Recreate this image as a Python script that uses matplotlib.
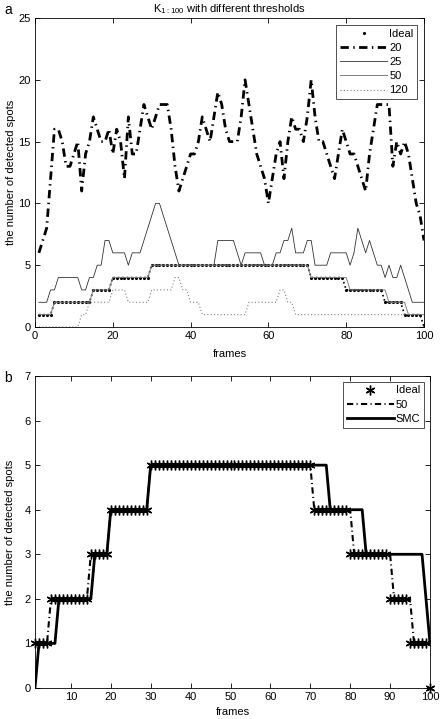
import numpy as np
import matplotlib
matplotlib.use("Agg")
import matplotlib.pyplot as plt
from matplotlib.lines import Line2D

plt.rcParams['font.family'] = ['Liberation Sans', 'DejaVu Sans']
plt.rcParams['font.size'] = 8
plt.rcParams['mathtext.fontset'] = 'custom'
plt.rcParams['mathtext.rm'] = 'Liberation Sans'

# frames 1..100
frames = np.arange(1, 101)

ideal = [1, 1, 1, 1, 2, 2, 2, 2, 2, 2, 2, 2, 2, 2, 3, 3, 3, 3, 3, 4,
         4, 4, 4, 4, 4, 4, 4, 4, 4, 5, 5, 5, 5, 5, 5, 5, 5, 5, 5, 5,
         5, 5, 5, 5, 5, 5, 5, 5, 5, 5, 5, 5, 5, 5, 5, 5, 5, 5, 5, 5,
         5, 5, 5, 5, 5, 5, 5, 5, 5, 5, 4, 4, 4, 4, 4, 4, 4, 4, 4, 3,
         3, 3, 3, 3, 3, 3, 3, 3, 3, 2, 2, 2, 2, 2, 1, 1, 1, 1, 1, 0]

thr20 = [6, 7, 8, 12, 16, 16, 15, 13, 13, 14, 15, 11, 14, 15, 17, 16, 15, 15, 16, 14,
         16, 15, 12, 17, 14, 14, 16, 18, 17, 16, 17, 18, 18, 18, 16, 13, 11, 12, 13, 14,
         14, 15, 17, 16, 15, 17, 19, 18, 16, 15, 15, 15, 17, 20, 18, 16, 14, 13, 12, 10,
         12, 14, 15, 12, 15, 17, 16, 16, 15, 17, 20, 17, 15, 15, 14, 13, 12, 14, 16, 15,
         14, 14, 13, 12, 11, 14, 16, 18, 18, 18, 18, 13, 15, 14, 15, 14, 12, 10, 9, 7]

thr25 = [2, 2, 2, 3, 3, 4, 4, 4, 4, 4, 4, 3, 3, 4, 4, 5, 5, 7, 7, 6,
         6, 6, 6, 5, 6, 6, 6, 7, 8, 9, 10, 10, 9, 8, 7, 6, 5, 5, 5, 5,
         5, 5, 5, 5, 5, 5, 7, 7, 7, 7, 7, 6, 5, 6, 6, 6, 6, 6, 5, 5,
         5, 6, 6, 7, 7, 8, 6, 6, 6, 7, 7, 5, 5, 5, 5, 6, 6, 6, 6, 6,
         5, 6, 8, 7, 6, 7, 6, 5, 5, 4, 5, 4, 4, 5, 4, 3, 2, 2, 2, 2]

thr50 = [1, 1, 1, 1, 2, 2, 2, 2, 2, 2, 2, 2, 2, 2, 3, 3, 3, 3, 3, 4,
         4, 4, 4, 4, 4, 4, 4, 4, 4, 5, 5, 5, 5, 5, 5, 5, 5, 5, 5, 5,
         5, 5, 5, 5, 5, 5, 5, 5, 5, 5, 5, 5, 5, 5, 5, 5, 5, 5, 5, 5,
         5, 5, 5, 5, 5, 5, 5, 5, 5, 5, 4, 4, 4, 4, 4, 4, 4, 4, 4, 4,
         3, 3, 3, 3, 3, 3, 3, 3, 3, 3, 2, 2, 2, 2, 2, 1, 1, 1, 1, 1]

thr120 = [0, 0, 0, 0, 0, 0, 0, 0, 0, 0, 0, 1, 1, 2, 2, 2, 2, 2, 2, 3,
          3, 3, 3, 2, 2, 2, 2, 2, 2, 3, 3, 3, 3, 3, 3, 4, 4, 3, 3, 2,
          2, 2, 1, 1, 1, 1, 1, 1, 1, 1, 1, 1, 1, 1, 2, 2, 2, 2, 2, 2,
          2, 2, 3, 3, 2, 2, 1, 1, 1, 1, 1, 1, 1, 1, 1, 1, 1, 1, 1, 1,
          1, 1, 1, 1, 1, 1, 1, 1, 1, 1, 1, 1, 1, 1, 1, 1, 1, 1, 1, 1]

smc = [0, 1, 1, 1, 1, 1, 2, 2, 2, 2, 2, 2, 2, 2, 2, 3, 3, 3, 3, 4,
       4, 4, 4, 4, 4, 4, 4, 4, 4, 5, 5, 5, 5, 5, 5, 5, 5, 5, 5, 5,
       5, 5, 5, 5, 5, 5, 5, 5, 5, 5, 5, 5, 5, 5, 5, 5, 5, 5, 5, 5,
       5, 5, 5, 5, 5, 5, 5, 5, 5, 5, 5, 5, 5, 5, 4, 4, 4, 4, 4, 4,
       4, 4, 4, 3, 3, 3, 3, 3, 3, 3, 3, 3, 3, 3, 3, 3, 3, 3, 2, 1]

DASHDOT = (0, (3, 1.6, 0.5, 1.6))
ASTERISK = (6, 2, 0)


def matlab_axes(ax):
    for sp in ax.spines.values():
        sp.set_linewidth(0.6)
    ax.tick_params(direction='in', top=True, right=True, length=3.5, width=0.6, pad=3, labelsize=8)


fig = plt.figure(figsize=(4.42, 7.19), dpi=100)
W, H = 442.0, 719.0

# ---- panel a
ax1 = fig.add_axes([35 / W, 1 - 327 / H, 389 / W, 309 / H])
ax1.plot(frames, ideal, color='k', linestyle=':', linewidth=1.2)
ax1.plot(frames, ideal, 'k.', markersize=2.5)
ax1.plot(frames, thr20, color='k', linewidth=2.0, linestyle=DASHDOT)
ax1.plot(frames, thr25, color='0.2', linewidth=0.6)
ax1.plot(frames, thr50, color='0.5', linewidth=0.7)
ax1.plot(frames, thr120, color='0.5', linewidth=0.8, linestyle=(0, (1, 2)))
ax1.set_xlim(0, 100)
ax1.set_ylim(0, 25)
ax1.set_xticks([0, 20, 40, 60, 80, 100])
ax1.set_yticks([0, 5, 10, 15, 20, 25])
ax1.set_xlabel('frames', fontsize=8)
ax1.set_ylabel('the number of detected spots', fontsize=8)
ax1.xaxis.set_label_coords(0.5, -0.072)
ax1.yaxis.set_label_coords(-0.05, 0.5)
ax1.set_title(r'K$_{1:100}$ with different thresholds', fontsize=8, pad=4)
matlab_axes(ax1)

handles1 = [
    Line2D([], [], color='k', marker='.', markersize=2.5, linestyle='none'),
    Line2D([], [], color='k', linewidth=2.0, linestyle=DASHDOT),
    Line2D([], [], color='0.2', linewidth=0.6),
    Line2D([], [], color='0.5', linewidth=0.7),
    Line2D([], [], color='0.5', linewidth=0.8, linestyle=(0, (1, 2))),
]
leg1 = ax1.legend(handles1, ['Ideal', '20', '25', '50', '120'], loc='upper right',
                  fontsize=8, frameon=True, fancybox=False, edgecolor='k',
                  handlelength=4.2, handletextpad=0.2, labelspacing=0.38,
                  borderpad=0.35, borderaxespad=0.6)
leg1.get_frame().set_linewidth(0.6)

# ---- panel b
ax2 = fig.add_axes([35 / W, 1 - 688 / H, 395 / W, 312 / H])
ax2.plot(frames, thr50, color='k', linewidth=1.5, linestyle=DASHDOT)
ax2.plot(frames, smc, color='k', linewidth=2.0)
ax2.plot(frames, ideal, color='k', marker=ASTERISK, markersize=7, markeredgewidth=1.0,
         linestyle='none', clip_on=False)
ax2.set_xlim(1, 100)
ax2.set_ylim(0, 7)
ax2.set_xticks([10, 20, 30, 40, 50, 60, 70, 80, 90, 100])
ax2.set_yticks([0, 1, 2, 3, 4, 5, 6, 7])
ax2.set_xlabel('frames', fontsize=8)
ax2.set_ylabel('the number of detected spots', fontsize=8)
ax2.xaxis.set_label_coords(0.5, -0.062)
ax2.yaxis.set_label_coords(-0.05, 0.5)
matlab_axes(ax2)

handles2 = [
    Line2D([], [], color='k', marker=ASTERISK, markersize=7, markeredgewidth=1.0, linestyle='none'),
    Line2D([], [], color='k', linewidth=1.5, linestyle=DASHDOT),
    Line2D([], [], color='k', linewidth=2.0),
]
leg2 = ax2.legend(handles2, ['Ideal', '50', 'SMC'], loc='upper right',
                  fontsize=8, frameon=True, fancybox=False, edgecolor='k',
                  handlelength=4.2, handletextpad=0.2, labelspacing=0.38,
                  borderpad=0.35, borderaxespad=0.5)
leg2.get_frame().set_linewidth(0.6)

fig.text(4 / W, 1 - 10 / H, 'a', fontsize=10, va='center', ha='left')
fig.text(4 / W, 1 - 378 / H, 'b', fontsize=10, va='center', ha='left')

fig.savefig('out.png', dpi=100)
